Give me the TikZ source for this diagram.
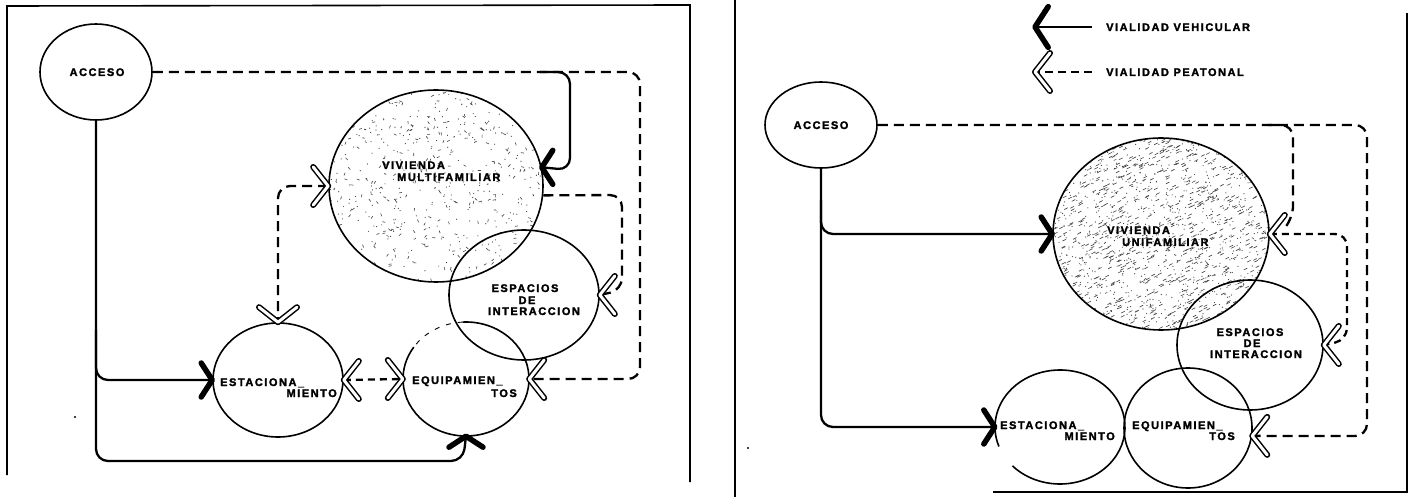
\documentclass[tikz,border=0pt]{standalone}
\usepackage{fontspec}
\newfontfamily\labfont[LetterSpace=14, BoldFeatures={FakeBold=2}]{Liberation Sans}
\usetikzlibrary{shapes.geometric}
\tikzset{
  area/.style={draw, line width=1.6pt, ellipse, inner sep=0pt},
  lbl/.style={font=\labfont\bfseries\fontsize{11}{11}\selectfont, inner sep=0pt, anchor=base west},
  lblr/.style={lbl, anchor=base east},
  lblc/.style={lbl, anchor=base},
  veh/.style={line width=2.3pt, rounded corners=12pt},
  ped/.style={line width=2.3pt, dash pattern=on 10pt off 6pt, rounded corners=12pt},
  frame/.style={line width=1.6pt},
  stip/.style={black!75},
  pics/vtip/.style={code={\draw[line width=5.5pt, line cap=round, line join=round] (-11,-17) -- (0,0) -- (-11,17);}},
  pics/ptip/.style={code={\draw[line width=1.5pt, double=white, double distance=3pt, line cap=round, line join=round] (-15,-19) -- (0,0) -- (-15,19);}}
}
\begin{document}
\begin{tikzpicture}[x=1pt,y=-1pt]
\useasboundingbox (0,0) rectangle (1419,497);
\fill[white] (0,0) rectangle (1419,497);

% ---------- stippling of the housing areas ----------
\begin{scope}
  \clip (436,186) ellipse [x radius=107pt, y radius=96pt];
  \pgfmathsetseed{11}
  \foreach \k in {1,...,420}{
    \pgfmathsetmacro\px{436+214*rnd-107}
    \pgfmathsetmacro\py{186+192*rnd-96}
    \fill[stip] (\px,\py) circle (0.6pt);
  }
  \foreach \k in {1,...,260}{
    \pgfmathsetmacro\px{436+214*rnd-107}
    \pgfmathsetmacro\py{186+192*rnd-96}
    \pgfmathsetmacro\pa{360*rnd}
    \draw[stip, line width=0.6pt] (\px,\py) -- ++(\pa:3pt);
  }
\end{scope}
\begin{scope}
  \clip (1161,234) ellipse [x radius=108pt, y radius=96pt];
  \pgfmathsetseed{23}
  \foreach \k in {1,...,1100}{
    \pgfmathsetmacro\px{1161+216*rnd-108}
    \pgfmathsetmacro\py{234+192*rnd-96}
    \fill[stip] (\px,\py) circle (0.6pt);
  }
  \foreach \k in {1,...,700}{
    \pgfmathsetmacro\px{1161+216*rnd-108}
    \pgfmathsetmacro\py{234+192*rnd-96}
    \draw[stip, line width=0.6pt] (\px,\py) -- ++(3.5,-1.8);
  }
\end{scope}

% ---------- frames ----------
\draw[frame] (7,475) -- (7,6) -- (690,5) -- (690,482);
\draw[frame] (735,0) -- (735,497);
\draw[frame] (1407,13) -- (1407,492) -- (993,492);
\fill (75,417) circle (1.2pt);
\fill (748,448) circle (1.2pt);

% ================= LEFT DIAGRAM =================
\node[area, minimum width=112pt, minimum height=96pt] (accL) at (96,72) {};
\node[area, minimum width=214pt, minimum height=192pt] (vivL) at (436,186) {};
\node[area, minimum width=150pt, minimum height=130pt] (espL) at (524,295) {};
\node[area, minimum width=130pt, minimum height=114pt] (estL) at (278,380) {};
\node[ellipse, inner sep=0pt, minimum width=126pt, minimum height=114pt] (equL) at (466,379) {};
\draw[line width=1.6pt] (equL.center) ++(93:63pt and 57pt) arc[start angle=93, end angle=-214, x radius=63pt, y radius=57pt];
\draw[line width=0.9pt, dash pattern=on 5pt off 7pt] (equL.center) ++(93:63pt and 57pt) arc[start angle=93, end angle=146, x radius=63pt, y radius=57pt];

% vehicular (solid)
\draw[veh] (accL.south) -- (96,461) -- (463,461) -- (equL.south);
\draw[veh] (96,330) -- (96,380) -- (estL.west);
\draw[veh] (540,72) -- (570,72) -- (570,170) -- (vivL.10);
% pedestrian (dashed)
\draw[ped] (accL.east) -- (640,72) -- (640,379) -- (equL.east);
\draw[ped] (vivL.-5) -- (622,195) -- (622,290) -- (espL.east);
\draw[ped] (vivL.west) -- (278,186) -- (estL.north);
\draw[ped, dash pattern=on 7pt off 5pt] (estL.east) -- (equL.west);

% arrow heads
\pic at (estL.west) {vtip};
\pic[rotate=180] at (vivL.10) {vtip};
\pic[rotate=90] at (equL.south) {vtip};
\pic at (vivL.west) {ptip};
\pic[rotate=-90] at (estL.north) {ptip};
\pic[rotate=180] at (estL.east) {ptip};
\pic at (equL.west) {ptip};
\pic[rotate=180] at (equL.east) {ptip};
\pic[rotate=180] at (espL.east) {ptip};

% labels
\node[lblc] (tAccL) at (97,76) {ACCESO};
\node[lbl] (tVivL1) at (382,169) {VIVIENDA};
\node[lbl] (tVivL2) at (397,181) {MULTIFAMILIAR};
\node[lblc] (tEspL1) at (525,292) {ESPACIOS};
\node[lblc] (tEspL2) at (527,304) {DE};
\node[lblc] (tEspL3) at (534,315) {INTERACCION};
\node[lbl] (tEstL1) at (220,386) {ESTACIONA\_};
\node[lblr] (tEstL2) at (337,397) {MIENTO};
\node[lbl] (tEquL1) at (412,384) {EQUIPAMIEN\_};
\node[lblr] (tEquL2) at (517,397) {TOS};

% ================= RIGHT DIAGRAM =================
% legend
\coordinate (legA) at (1035,27);
\coordinate (legAe) at (1092,27);
\coordinate (legB) at (1035,72);
\coordinate (legBe) at (1092,72);
\draw[veh] (legAe) -- (legA);
\pic[rotate=180, scale=1.2] at (legA) {vtip};
\draw[ped, dash pattern=on 8pt off 5pt] (legBe) -- (legB);
\pic[rotate=180] at (legB) {ptip};
\node[lbl] (tLeg1) at (1106,31) {VIALIDAD VEHICULAR};
\node[lbl] (tLeg2) at (1106,76) {VIALIDAD PEATONAL};

\node[area, minimum width=112pt, minimum height=86pt] (accR) at (821,125) {};
\node[area, minimum width=216pt, minimum height=192pt] (vivR) at (1161,234) {};
\node[area, minimum width=146pt, minimum height=130pt] (espR) at (1250,345) {};
\node[area, minimum width=128pt, minimum height=120pt] (equR) at (1188,428) {};
\node[ellipse, inner sep=0pt, minimum width=130pt, minimum height=114pt] (estR) at (1060,427) {};
\draw[line width=1.6pt] (estR.center) ++(223:65pt and 57pt) arc[start angle=223, end angle=560, x radius=65pt, y radius=57pt];

\coordinate (d2e) at (1288,224);
% vehicular
\draw[veh] (accR.south) -- (821,427) -- (estR.west);
\draw[veh] (821,200) -- (821,234) -- (vivR.west);
% pedestrian
\draw[ped] (accR.east) -- (1367,125) -- (1367,436) -- (equR.-7);
\draw[ped] (1268,125) -- (1293,125) -- (1293,218) -- (d2e);
\draw[ped, dash pattern=on 7pt off 5pt] (vivR.east) -- (1347,234) -- (1347,340) -- (espR.east);

% arrow heads
\pic at (vivR.west) {vtip};
\pic at (estR.west) {vtip};
\pic[rotate=180] at (vivR.east) {ptip};
\pic[rotate=180] at (espR.east) {ptip};
\pic[rotate=180] at (equR.-7) {ptip};

% labels
\node[lblc] (tAccR) at (821,129) {ACCESO};
\node[lbl] (tVivR1) at (1107,234) {VIVIENDA};
\node[lbl] (tVivR2) at (1122,246) {UNIFAMILIAR};
\node[lblc] (tEspR1) at (1250,336) {ESPACIOS};
\node[lblc] (tEspR2) at (1252,347) {DE};
\node[lblc] (tEspR3) at (1256,358) {INTERACCION};
\node[lbl] (tEstR1) at (1000,429) {ESTACIONA\_};
\node[lblr] (tEstR2) at (1115,440) {MIENTO};
\node[lbl] (tEquR1) at (1132,429) {EQUIPAMIEN\_};
\node[lblr] (tEquR2) at (1235,440) {TOS};
\end{tikzpicture}
\end{document}
